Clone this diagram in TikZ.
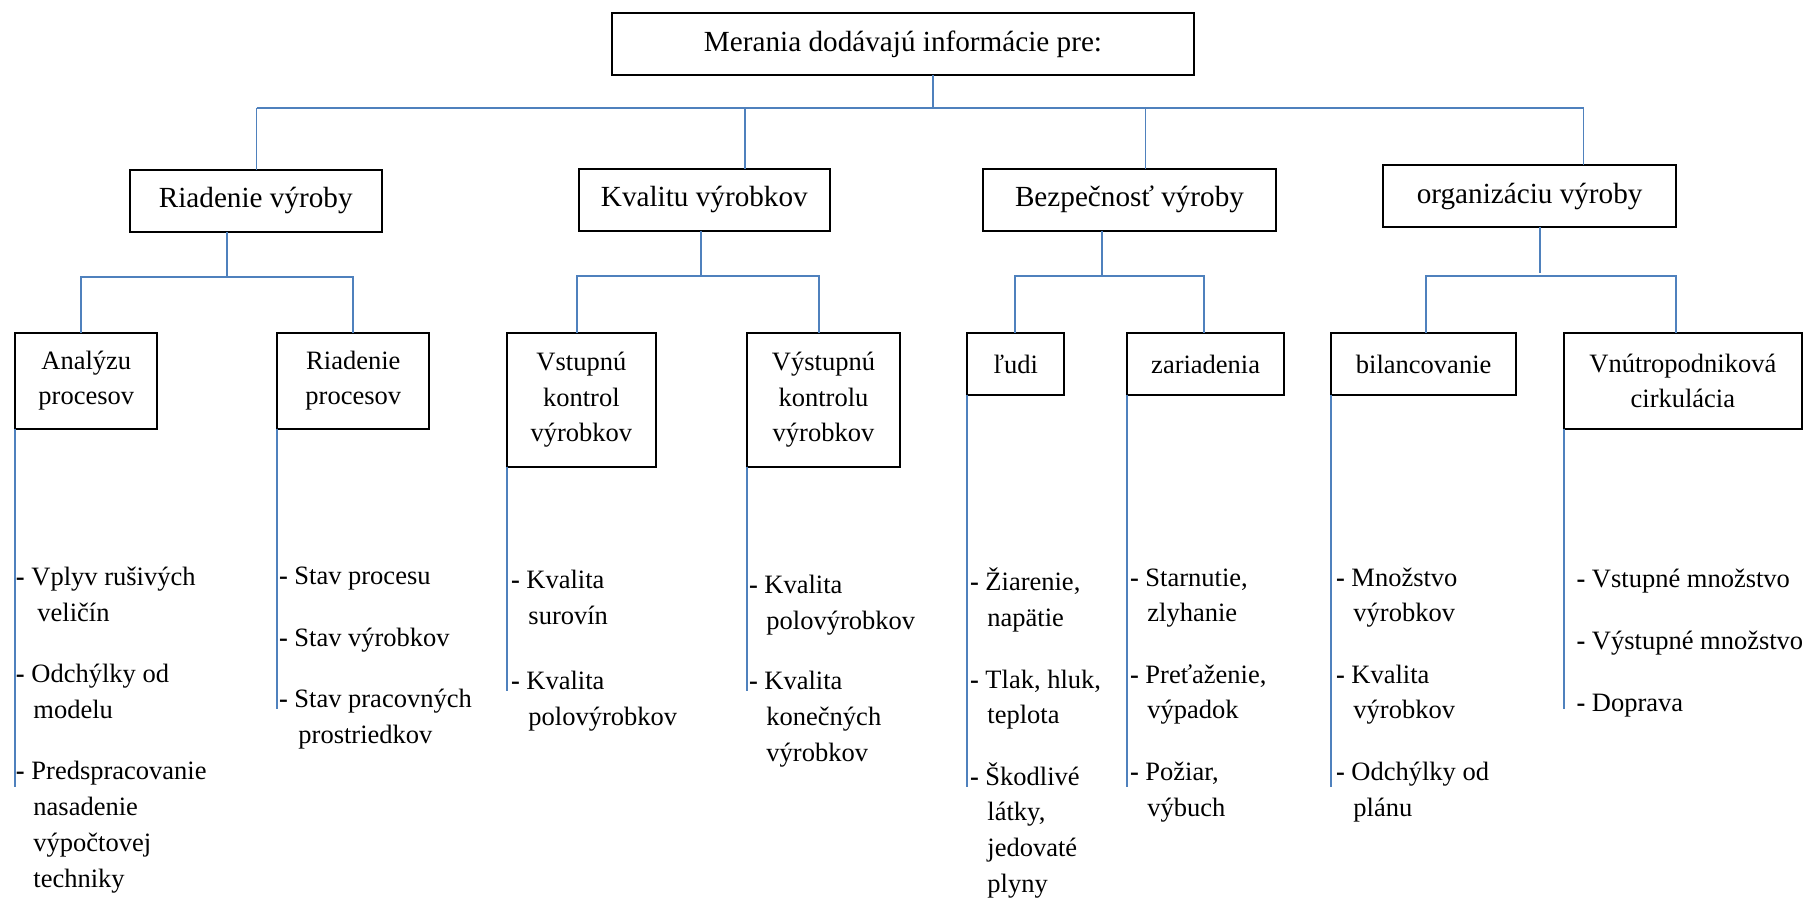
\documentclass[tikz,border=0pt]{standalone}
\usepackage{fontspec}
\setmainfont{Liberation Serif}
\definecolor{linkblue}{HTML}{4F81BD}
\newcommand{\itemdash}{\textbf{-}}
\newcommand{\contind}{\hphantom{\textbf{-} }\hspace{2pt}}
\tikzset{
  box/.style={draw=black, line width=2pt, rectangle, inner sep=0pt, outer sep=0pt,
    align=center, font=\fontsize{26.5}{35.5}\selectfont},
  bigbox/.style={box, font=\fontsize{29.2}{35.5}\selectfont},
  link/.style={draw=linkblue, line width=1.7pt},
  % placed by the baseline of the last line
  items/.style={anchor=base west, inner sep=0pt, outer sep=0pt, align=left,
    font=\fontsize{26.5}{35.8}\selectfont},
}
\begin{document}
\begin{tikzpicture}[x=1pt, y=-1pt]
\useasboundingbox (0,0) rectangle (1807,897);
\fill[white] (0,0) rectangle (1807,897);

% root
\node[bigbox, minimum width=582pt, minimum height=62.5pt] (root) at (903,44.2) {Merania dodávajú informácie pre:};

% first level
\node[bigbox, minimum width=252.5pt, minimum height=61.7pt] (rv) at (255.75,200.85) {Riadenie výroby};
\node[bigbox, minimum width=250.7pt, minimum height=62pt] (kv) at (704.35,199.7) {Kvalitu výrobkov};
\node[bigbox, minimum width=293pt, minimum height=62pt] (bv) at (1129.5,199.7) {Bezpečnosť výroby};
\node[bigbox, minimum width=292.7pt, minimum height=62.6pt] (ov) at (1529.65,196) {organizáciu výroby};

% second level
\node[box, minimum width=142pt, minimum height=96pt] (ap) at (86.3,380.7) {Analýzu\\procesov};
\node[box, minimum width=152pt, minimum height=96pt] (rp) at (353.3,380.7) {Riadenie\\procesov};
\node[box, minimum width=148.7pt, minimum height=134.3pt] (vk) at (581.35,399.85) {Vstupnú\\kontrol\\výrobkov};
\node[box, minimum width=152.4pt, minimum height=134.3pt] (yk) at (823.5,399.85) {Výstupnú\\kontrolu\\výrobkov};
\node[box, minimum width=96.7pt, minimum height=62.6pt] (lu) at (1015.65,364) {ľudi};
\node[box, minimum width=156.7pt, minimum height=62.6pt] (za) at (1205.65,364) {zariadenia};
\node[box, minimum width=184.7pt, minimum height=62.6pt] (bi) at (1423.65,364) {bilancovanie};
\node[box, minimum width=238.3pt, minimum height=96pt] (vc) at (1682.85,380.7) {Vnútropodniková\\cirkulácia};

% root to first level
\coordinate (hub) at (933,108);
\coordinate (busL) at (256.6,108);
\coordinate (busR) at (1583.5,108);
\coordinate (dk) at (745,108);
\coordinate (db) at (1145.5,108);
\draw[link] (root.south -| hub) -- (hub);
\draw[link] (busL) -- (busR);
\draw[link] (busL) -- (busL |- rv.north);
\draw[link] (dk) -- (dk |- kv.north);
\draw[link] (db) -- (db |- bv.north);
\draw[link] (busR) -- (busR |- ov.north);

% Riadenie výroby
\coordinate (rvhub) at (227,276.7);
\coordinate (rvL) at (81,276.7);
\coordinate (rvR) at (353,276.7);
\draw[link] (rv.south -| rvhub) -- (rvhub);
\draw[link] (rvL |- ap.north) -- (rvL) -- (rvR) -- (rvR |- rp.north);

% Kvalitu výrobkov
\coordinate (kvhub) at (701,276.3);
\coordinate (kvL) at (577.3,276.3);
\coordinate (kvR) at (819.3,276.3);
\draw[link] (kv.south -| kvhub) -- (kvhub);
\draw[link] (kvL |- vk.north) -- (kvL) -- (kvR) -- (kvR |- yk.north);

% Bezpečnosť výroby
\coordinate (bvhub) at (1101.7,276.3);
\coordinate (bvL) at (1015.3,276.3);
\coordinate (bvR) at (1203.7,276.3);
\draw[link] (bv.south -| bvhub) -- (bvhub);
\draw[link] (bvL |- lu.north) -- (bvL) -- (bvR) -- (bvR |- za.north);

% organizáciu výroby
\coordinate (ovhub) at (1539.7,272.7);
\coordinate (ovL) at (1425.7,276.3);
\coordinate (ovR) at (1675.7,276.3);
\draw[link] (ov.south -| ovhub) -- (ovhub);
\draw[link] (ovL |- bi.north) -- (ovL) -- (ovR) -- (ovR |- vc.north);

% item rails
\coordinate (endA) at (0,787);
\coordinate (endB) at (0,708.7);
\coordinate (endC) at (0,691);
\draw[link] (ap.south west) -- (ap.south west |- endA);
\draw[link] (rp.south west) -- (rp.south west |- endB);
\draw[link] (vk.south west) -- (vk.south west |- endC);
\draw[link] (yk.south west) -- (yk.south west |- endC);
\draw[link] (lu.south west) -- (lu.south west |- endA);
\draw[link] (za.south west) -- (za.south west |- endA);
\draw[link] (bi.south west) -- (bi.south west |- endA);
\draw[link] (vc.south west) -- (vc.south west |- endB);

% item lists
\node[items] (i1) at (16,887) {\itemdash{} Vplyv rušivých\\ \contind\hspace{4pt}veličín\\[25.5pt]
  \itemdash{} Odchýlky od\\ \contind modelu\\[25.5pt]
  \itemdash{} Predspracovanie\\ \contind nasadenie\\ \contind výpočtovej\\ \contind techniky};
\node[items] (i2) at (279,743.3) {\itemdash{} Stav procesu\\[25.5pt]
  \itemdash{} Stav výrobkov\\[25.5pt]
  \itemdash{} Stav pracovných\\ \contind\hspace{2pt}prostriedkov};
\node[items] (i3) at (511,725.5) {\itemdash{} Kvalita\\ \contind surovín\\[29.5pt]
  \itemdash{} Kvalita\\ \contind polovýrobkov};
\node[items] (i4) at (749,761) {\itemdash{} Kvalita\\ \contind polovýrobkov\\[24.6pt]
  \itemdash{} Kvalita\\ \contind konečných\\ \contind výrobkov};
\node[items] (i5) at (970,892.5) {\itemdash{} Žiarenie,\\ \contind napätie\\[25.5pt]
  \itemdash{} Tlak, hluk,\\ \contind teplota\\[25.5pt]
  \itemdash{} Škodlivé\\ \contind látky,\\ \contind jedovaté\\ \contind plyny};
\node[items] (i6) at (1130,816) {\itemdash{} Starnutie,\\ \contind zlyhanie\\[25.5pt]
  \itemdash{} Preťaženie,\\ \contind výpadok\\[25.5pt]
  \itemdash{} Požiar,\\ \contind výbuch};
\node[items] (i7) at (1336,816) {\itemdash{} Množstvo\\ \contind výrobkov\\[25.5pt]
  \itemdash{} Kvalita\\ \contind výrobkov\\[25.5pt]
  \itemdash{} Odchýlky od\\ \contind plánu};
\node[items] (i8) at (1576.5,711) {\itemdash{} Vstupné množstvo\\[26.2pt]
  \itemdash{} Výstupné množstvo\\[26.2pt]
  \itemdash{} Doprava};
\end{tikzpicture}
\end{document}
